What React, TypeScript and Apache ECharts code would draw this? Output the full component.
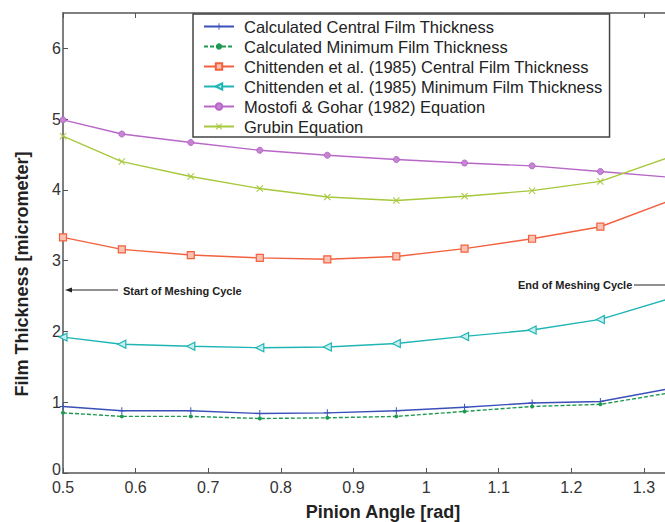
import React, { useEffect, useRef } from "react";
import * as echarts from "echarts";

const angles = [0.5, 0.581, 0.676, 0.771, 0.864, 0.959, 1.053, 1.146, 1.24, 1.334];
const calcCentral = [0.94, 0.88, 0.88, 0.84, 0.85, 0.88, 0.93, 0.99, 1.01, 1.19];
const calcMinimum = [0.85, 0.8, 0.8, 0.77, 0.78, 0.8, 0.87, 0.94, 0.97, 1.13];
const chitCentral = [3.33, 3.16, 3.08, 3.04, 3.02, 3.06, 3.17, 3.31, 3.48, 3.84];
const chitMinimum = [1.92, 1.82, 1.79, 1.77, 1.78, 1.83, 1.93, 2.02, 2.17, 2.46];
const mostofi = [4.99, 4.79, 4.67, 4.56, 4.49, 4.43, 4.38, 4.34, 4.26, 4.18];
const grubin = [4.76, 4.4, 4.19, 4.02, 3.9, 3.85, 3.91, 3.99, 4.12, 4.46];

const seriesNames = [
  "Calculated Central Film Thickness",
  "Calculated Minimum Film Thickness",
  "Chittenden et al. (1985) Central Film Thickness",
  "Chittenden et al. (1985) Minimum Film Thickness",
  "Mostofi & Gohar (1982) Equation",
  "Grubin Equation",
];

const xMin = 0.5;
const xMax = 1.329;
const yMin = 0;
const yMax = 6.5;

const PLUS = "path://M4.3,0H5.7V4.3H10V5.7H5.7V10H4.3V5.7H0V4.3H4.3Z";
const CROSS = "path://M1,0L5,4L9,0L10,1L6,5L10,9L9,10L5,6L1,10L0,9L4,5L0,1Z";
const LEFT_TRI = "path://M0,5L10,0L10,10Z";

function pairs(vals: number[]) {
  return angles.map((a, i) => [a, vals[i]]);
}

export default function App() {
  const ref = useRef<HTMLDivElement>(null);
  useEffect(() => {
    document.body.style.margin = "0";
    const chart = echarts.init(ref.current!, undefined, { renderer: "svg" });
    const font = "Liberation Sans, Arial, sans-serif";
    const lineSeries = (
      name: string,
      vals: number[],
      color: string,
      symbol: string,
      symbolSize: number,
      itemStyle: any,
      dashed = false
    ) => ({
      name,
      type: "line",
      data: pairs(vals),
      symbol,
      symbolSize,
      clip: true,
      lineStyle: { color, width: 1.4, type: dashed ? [4, 2] : "solid" },
      itemStyle: { color, ...itemStyle },
    });
    chart.setOption({
      animation: false,
      backgroundColor: "#ffffff",
      textStyle: { fontFamily: font },
      grid: { left: 63, top: 13, right: 0, bottom: 49 },
      xAxis: [
        {
          type: "value",
          min: xMin,
          max: xMax,
          interval: 0.1,
          axisLine: { lineStyle: { color: "#555", width: 1.5 } },
          axisTick: { inside: true, length: 5, lineStyle: { color: "#555" } },
          axisLabel: {
            color: "#333",
            fontSize: 16,
            margin: 6,
            showMaxLabel: false,
            formatter: (v: number) => String(Number(v.toFixed(1))),
          },
          splitLine: { show: false },
        },
        {
          type: "value",
          position: "top",
          min: xMin,
          max: xMax,
          interval: 0.1,
          axisLine: { show: true, lineStyle: { color: "#555", width: 1.5 } },
          axisTick: { inside: true, length: 5, lineStyle: { color: "#555" } },
          axisLabel: { show: false },
          splitLine: { show: false },
        },
      ],
      yAxis: {
        type: "value",
        min: yMin,
        max: yMax,
        interval: 1,
        axisLine: { show: true, lineStyle: { color: "#555", width: 1.5 } },
        axisTick: { show: true, inside: true, length: 5, lineStyle: { color: "#555" } },
        axisLabel: {
          color: "#333",
          fontSize: 16,
          margin: 2,
          showMaxLabel: false,
          formatter: (v: number) => (Math.round(v) === 0 ? "{z|0}" : String(Math.round(v))),
          rich: { z: { fontSize: 16, color: "#333", padding: [0, 0, 8, 0] } },
        },
        splitLine: { show: false },
      },
      legend: {
        orient: "vertical",
        left: 193,
        top: 14,
        padding: [4, 7, 2, 10],
        itemGap: 3,
        itemWidth: 30,
        itemHeight: 8,
        backgroundColor: "#ffffff",
        borderColor: "#444",
        borderWidth: 1.5,
        borderRadius: 0,
        data: seriesNames,
        textStyle: {
          fontSize: 16.5,
          lineHeight: 17,
          color: "#222",
          padding: [0, 0, 0, 5],
          fontFamily: font,
        },
      },
      series: [
        lineSeries(seriesNames[0], calcCentral, "#3a4fb8", PLUS, 7, {}),
        lineSeries(seriesNames[1], calcMinimum, "#1e9a50", "circle", 4, {}, true),
        lineSeries(seriesNames[2], chitCentral, "#f2603e", "rect", 7, {
          color: "#f9c2b2",
          borderColor: "#f2603e",
          borderWidth: 1.2,
        }),
        lineSeries(seriesNames[3], chitMinimum, "#1fb5b5", LEFT_TRI, 8, {
          color: "#c8eeee",
          borderColor: "#1fb5b5",
          borderWidth: 1.2,
        }),
        lineSeries(seriesNames[4], mostofi, "#b866c8", "circle", 6, {
          color: "#c585d3",
          borderColor: "#b866c8",
          borderWidth: 1,
        }),
        lineSeries(seriesNames[5], grubin, "#a6c83c", CROSS, 7, {}),
      ],
      graphic: [
        {
          type: "text",
          x: 22,
          y: 274,
          rotation: Math.PI / 2,
          style: {
            text: "Film Thickness [micrometer]",
            font: `bold 18px ${font}`,
            fill: "#222",
            align: "center",
            verticalAlign: "middle",
          },
        },
        {
          type: "text",
          x: 383,
          y: 512,
          style: {
            text: "Pinion Angle [rad]",
            font: `bold 18px ${font}`,
            fill: "#222",
            align: "center",
            verticalAlign: "middle",
          },
        },
        {
          type: "line",
          shape: { x1: 70, y1: 290, x2: 118, y2: 290 },
          style: { stroke: "#222", lineWidth: 1 },
        },
        {
          type: "polygon",
          shape: { points: [[65, 290], [72, 287.5], [72, 292.5]] },
          style: { fill: "#222" },
        },
        {
          type: "text",
          x: 123,
          y: 291,
          style: {
            text: "Start of Meshing Cycle",
            font: `bold 11px ${font}`,
            fill: "#222",
            align: "left",
            verticalAlign: "middle",
          },
        },
        {
          type: "text",
          x: 518,
          y: 285,
          style: {
            text: "End of Meshing Cycle",
            font: `bold 11px ${font}`,
            fill: "#222",
            align: "left",
            verticalAlign: "middle",
          },
        },
        {
          type: "line",
          shape: { x1: 634, y1: 285, x2: 665, y2: 285 },
          style: { stroke: "#222", lineWidth: 1 },
        },
      ],
    });
    return () => chart.dispose();
  }, []);
  return <div ref={ref} style={{ width: 665, height: 522 }} />;
}
